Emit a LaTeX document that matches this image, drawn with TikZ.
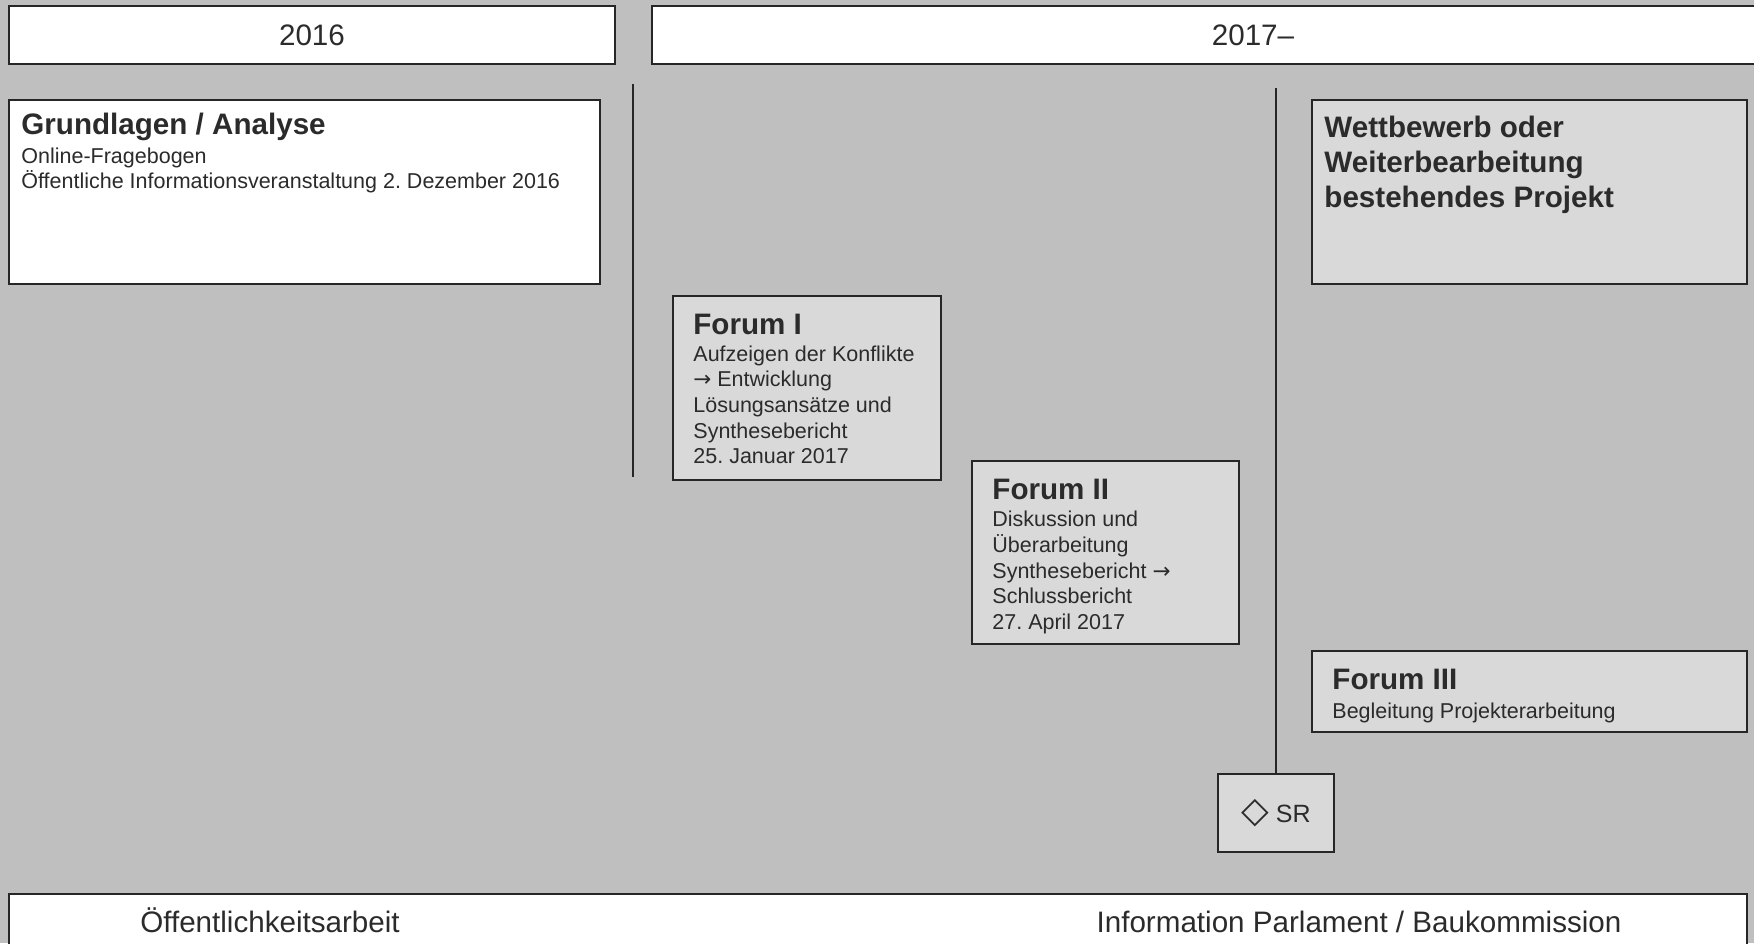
\documentclass[tikz,border=0pt]{standalone}
\usepackage{fontspec}
\setmainfont{Liberation Sans}
\newfontfamily\symfont{DejaVu Sans}
\usetikzlibrary{positioning}
\frenchspacing

\definecolor{bggray}{HTML}{BFBFBF}
\definecolor{boxgray}{HTML}{D9D9D9}
\definecolor{linegray}{HTML}{262626}
\definecolor{textgray}{HTML}{2B2B2B}

\newcommand{\bodyfont}{\fontsize{10.75pt}{12.85pt}\selectfont}
\newcommand{\headfont}{\fontsize{14.8pt}{17.5pt}\selectfont\bfseries}
\newcommand{\yearfont}{\fontsize{14.8pt}{18pt}\selectfont}
\newcommand{\arr}{{\symfont →}}

\tikzset{
    whitebox/.style={draw=linegray, line width=1pt, fill=white},
    greybox/.style={draw=linegray, line width=1pt, fill=boxgray},
    boxtext/.style={anchor=north west, align=left, inner sep=0pt, text=textgray, font=\bodyfont},
    yeartext/.style={inner sep=0pt, text=textgray, font=\yearfont},
    srbox/.style={greybox, minimum width=58pt, minimum height=39pt, inner sep=0pt, text=textgray, font=\fontsize{12.5pt}{15pt}\selectfont},
}

\begin{document}
\begin{tikzpicture}[x=0.5pt, y=-0.5pt]
            \useasboundingbox (0, 0) rectangle (1754, 943);
            \fill[bggray] (0, 0) rectangle (1754, 943);

            % top bar
            \draw[whitebox] (9, 6) rectangle (615, 64);
            \draw[whitebox] (652, 6) rectangle (1860, 64);
            \node[yeartext] (y2016) at (312, 35) {2016};
            \node[yeartext] (y2017) at (1253, 35) {2017–};

            % boxes
            \draw[whitebox] (9, 100) rectangle (600, 284);
            \node[boxtext, font=\fontsize{10.75pt}{12.3pt}\selectfont] (grund) at (21, 113) {{\headfont Grundlagen / Analyse}\\[2pt]
                Online-Fragebogen\\
                Öffentliche Informationsveranstaltung 2. Dezember 2016};

            \draw[greybox] (673, 296) rectangle (941, 480);
            \node[boxtext] (forum1) at (693, 314) {{\headfont Forum I}\\[0.3pt]
                Aufzeigen der Konflikte\\
                \arr{} Entwicklung\\
                Lösungsansätze und\\
                Synthesebericht\\
                25. Januar 2017};

            \draw[greybox] (972, 461) rectangle (1239, 644);
            \node[boxtext] (forum2) at (992, 479) {{\headfont Forum II}\\[0.6pt]
                Diskussion und\\
                Überarbeitung\\
                Synthesebericht \arr\\
                Schlussbericht\\
                27. April 2017};

            \draw[greybox] (1312, 100) rectangle (1747, 284);
            \node[boxtext, font=\headfont] (wettb) at (1324, 116) {Wettbewerb oder\\
                Weiterbearbeitung\\
                bestehendes Projekt};

            \draw[greybox] (1312, 651) rectangle (1747, 732);
            \node[boxtext] (forum3) at (1332, 669) {{\headfont Forum III}\\[1.5pt]
                Begleitung Projekterarbeitung};

            \node[srbox] (sr) at (1276, 813) {{\symfont\fontsize{18pt}{18pt}\selectfont ◇} SR};

            % lines
            \coordinate (l1top) at (633, 84);
            \coordinate (l1bot) at (633, 477);
            \coordinate (l2top) at (1276, 88);
            \draw[linegray, line width=1pt] (l1top) -- (l1bot);
            \draw[linegray, line width=1pt] (l2top) -- (sr.north);

            % bottom bar
            \draw[whitebox] (9, 894) rectangle (1747, 960);
            \node[yeartext, anchor=base] (oeff) at (270, 932) {Öffentlichkeitsarbeit};
            \node[yeartext, anchor=base] (parl) at (1359, 932) {Information Parlament / Baukommission};
\end{tikzpicture}
\end{document}
